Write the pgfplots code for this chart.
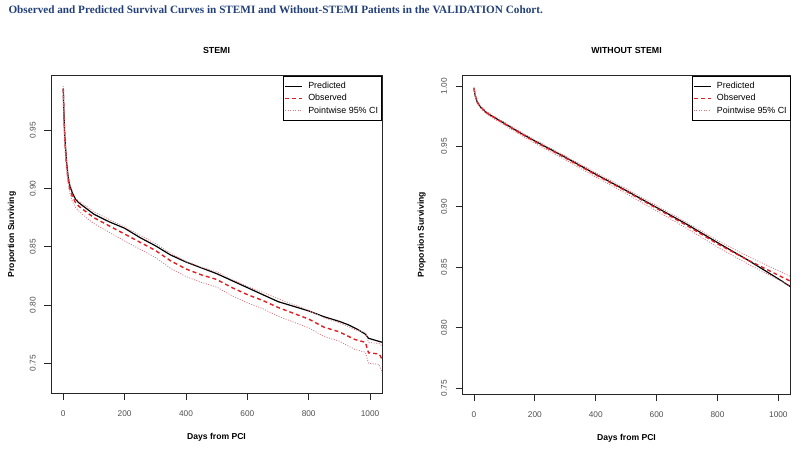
\documentclass[border=0pt]{standalone}
\usepackage{pgfplots}
\pgfplotsset{compat=1.18}
\usepackage{pgfplotstable}
\usepackage{fontspec}
\setmainfont{Liberation Sans}
\newfontfamily\titlefont{Liberation Serif}
\definecolor{titleblue}{RGB}{35,64,120}
\definecolor{obsred}{RGB}{225,30,35}
\definecolor{cired}{RGB}{220,120,130}
\definecolor{ticklab}{RGB}{80,80,80}

\pgfplotstableread{
day pred
0 0.986
2 0.965
5 0.945
10 0.925
15 0.912
20 0.904
30 0.896
40 0.891
50 0.888
75 0.883
100 0.878
150 0.8715
200 0.866
250 0.858
300 0.851
350 0.843
400 0.837
450 0.832
500 0.827
550 0.821
600 0.815
650 0.809
700 0.803
750 0.799
800 0.795
850 0.790
900 0.786
930 0.783
960 0.779
985 0.775
995 0.7715
1040 0.768
}\stemipred

\pgfplotstableread{
day obs up lo
0 0.986 0.988 0.984
2 0.962 0.965 0.959
5 0.942 0.945 0.939
10 0.922 0.925 0.919
15 0.909 0.912 0.906
20 0.901 0.905 0.897
30 0.893 0.897 0.889
40 0.888 0.892 0.884
50 0.885 0.889 0.881
75 0.880 0.885 0.875
100 0.875 0.880 0.870
150 0.868 0.8735 0.8625
200 0.861 0.867 0.855
250 0.854 0.860 0.848
300 0.847 0.853 0.841
350 0.838 0.8445 0.8315
400 0.831 0.8375 0.8245
450 0.826 0.8325 0.8195
500 0.822 0.8285 0.8155
550 0.815 0.822 0.808
600 0.809 0.816 0.802
650 0.804 0.811 0.797
700 0.798 0.8055 0.7905
750 0.793 0.8005 0.7855
800 0.788 0.7955 0.7805
850 0.781 0.789 0.773
900 0.777 0.785 0.769
950 0.7705 0.779 0.762
985 0.768 0.7765 0.7595
995 0.759 0.768 0.750
1030 0.758 0.767 0.749
1040 0.753 0.7645 0.7415
}\stemiobs

\pgfplotstableread{
day pred
0 0.998
3 0.993
10 0.987
20 0.983
40 0.978
60 0.975
100 0.969
150 0.9615
200 0.9545
300 0.941
400 0.927
500 0.9135
600 0.8995
700 0.8855
800 0.8705
900 0.856
1000 0.8405
1040 0.834
}\nonpred

\pgfplotstableread{
day obs up lo
0 0.998 0.999 0.997
3 0.993 0.994 0.992
10 0.987 0.988 0.986
20 0.983 0.984 0.982
40 0.978 0.979 0.977
60 0.9748 0.9759 0.9737
100 0.9688 0.9700 0.9676
150 0.9612 0.9625 0.9599
200 0.954 0.9554 0.9526
300 0.9405 0.9421 0.9389
400 0.9265 0.9283 0.9247
500 0.913 0.9150 0.9110
600 0.8988 0.9010 0.8966
700 0.8845 0.8869 0.8821
800 0.8695 0.8722 0.8668
900 0.856 0.8592 0.8528
1000 0.8435 0.8472 0.8398
1040 0.8385 0.8425 0.8345
}\nonobs

\pgfplotsset{
  rstyle/.style={
    scale only axis,
    axis line style={black!85, line width=1pt},
    tick align=outside,
    xtick pos=bottom,
    ytick pos=left,
    major tick length=6.7pt,
    tick style={black!85, line width=0.9pt},
    xtick={0,200,400,600,800,1000},
    xticklabels={0,200,400,600,800,1000},
    ticklabel style={font=\fontsize{8.3}{9}\selectfont, text=ticklab},
    xticklabel style={yshift=-7pt},
    yticklabel style={rotate=90, anchor=south},
    yticklabel shift=5pt,
    title style={at={(axis description cs:0.5,1)}, anchor=center, yshift=19pt, font=\bfseries\fontsize{8.8}{10}\selectfont},
    xlabel={Days from PCI},
    ylabel={Proportion Surviving},
    label style={font=\bfseries\fontsize{8.6}{10}\selectfont},
    xlabel style={at={(axis description cs:0.5,0)}, anchor=center, yshift=-44.7pt},
    legend style={at={(1,1)}, anchor=north east, draw=black, line width=1pt,
      font=\fontsize{8.9}{10}\selectfont, inner xsep=1pt, inner ysep=5pt,
      row sep=1.5pt, column sep=3pt,
      nodes={inner xsep=2.5pt, inner ysep=1.3pt}},
    legend cell align=left,
    legend image code/.code={\draw[#1] (0pt,0pt) -- (17pt,0pt);},
    clip=true,
  },
  predline/.style={black, line width=1.2pt},
  obsline/.style={obsred, line width=1.4pt, dash pattern=on 4pt off 3pt},
  ciline/.style={cired, line width=0.8pt, dash pattern=on 1pt off 1.5pt},
}

\begin{document}
\begin{tikzpicture}
\useasboundingbox (0,0) rectangle (800pt,450pt);
\fill[white] (0,0) rectangle (800pt,450pt);
\node[anchor=west, text=titleblue, font=\titlefont\bfseries\fontsize{11.2}{13}\selectfont] at (5pt,440pt)
  {Observed and Predicted Survival Curves in STEMI and Without-STEMI Patients in the VALIDATION Cohort.};

\begin{axis}[rstyle,
  at={(51pt,57pt)}, anchor=south west,
  width=331pt, height=317.3pt,
  xmin=-40, xmax=1039, ymin=0.7245, ymax=0.997,
  ytick={0.75,0.80,0.85,0.90,0.95},
  yticklabels={0.75,0.80,0.85,0.90,0.95},
  title={STEMI},
  ylabel style={at={(axis description cs:-0.1178,0.5)}, anchor=center},
]
\addplot[predline] table[x=day,y=pred] {\stemipred};
\addlegendentry{Predicted}
\addplot[obsline] table[x=day,y=obs] {\stemiobs};
\addlegendentry{Observed}
\addplot[ciline] table[x=day,y=up] {\stemiobs};
\addlegendentry{Pointwise 95\% CI}
\addplot[ciline, forget plot] table[x=day,y=lo] {\stemiobs};
\end{axis}

\begin{axis}[rstyle,
  at={(462.3pt,56pt)}, anchor=south west,
  width=328.4pt, height=318.3pt,
  xmin=-38.5, xmax=1040.5, ymin=0.7453, ymax=1.0085,
  ytick={0.75,0.80,0.85,0.90,0.95,1.00},
  yticklabels={0.75,0.80,0.85,0.90,0.95,1.00},
  title={WITHOUT STEMI},
  ylabel style={at={(axis description cs:-0.1236,0.5)}, anchor=center},
]
\addplot[predline] table[x=day,y=pred] {\nonpred};
\addlegendentry{Predicted}
\addplot[obsline] table[x=day,y=obs] {\nonobs};
\addlegendentry{Observed}
\addplot[ciline] table[x=day,y=up] {\nonobs};
\addlegendentry{Pointwise 95\% CI}
\addplot[ciline, forget plot] table[x=day,y=lo] {\nonobs};
\end{axis}
\end{tikzpicture}
\end{document}
